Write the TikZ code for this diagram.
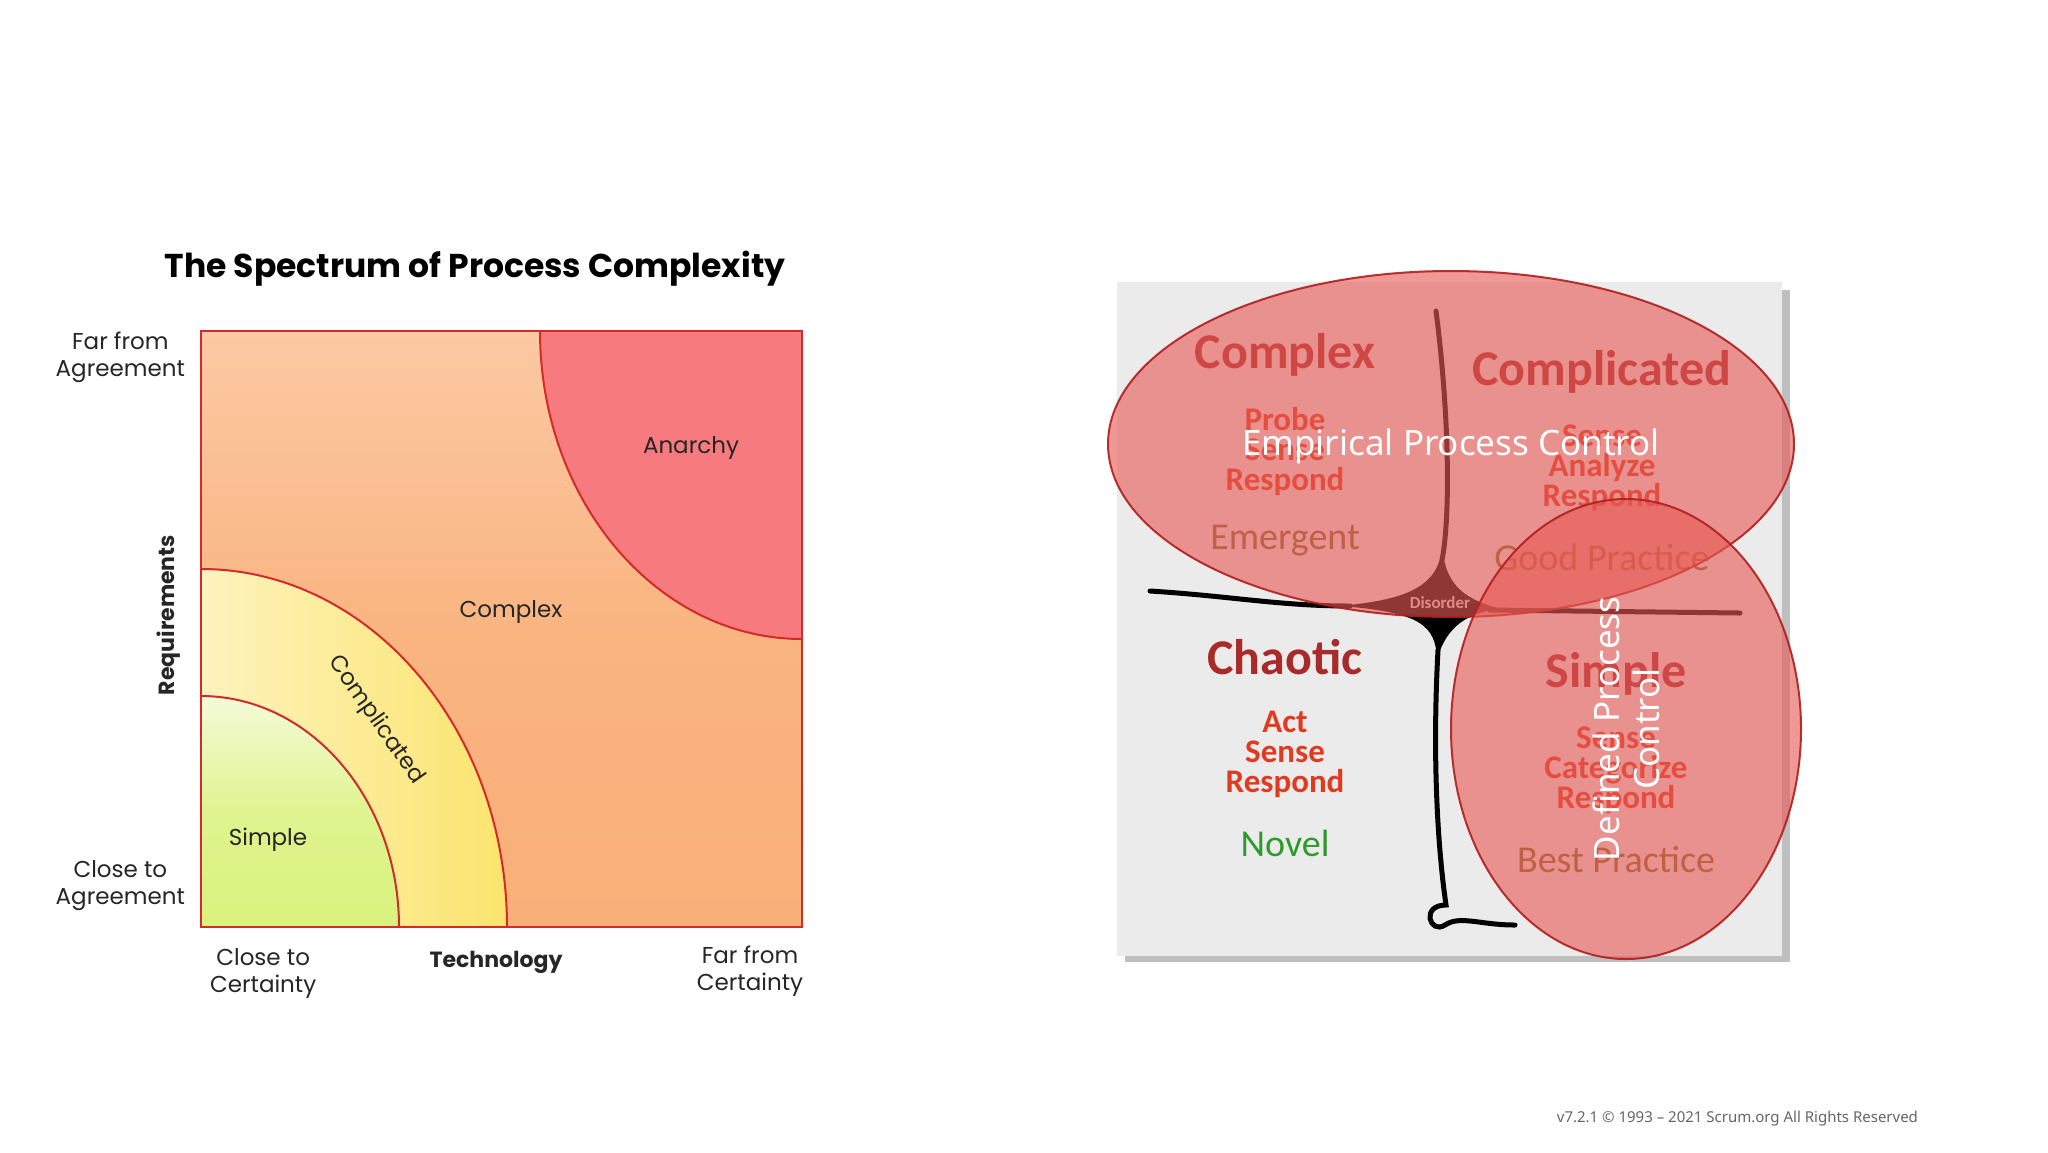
\documentclass[tikz,border=0pt]{standalone}
\usepackage{fontspec}
\setmainfont{Poppins}
\newfontfamily\cyn{Carlito}
\newfontfamily\nsans{Noto Sans}
\usetikzlibrary{shadows}
\definecolor{orng}{HTML}{F9AF78}
\definecolor{orngl}{HTML}{FBC9A3}
\definecolor{anr}{HTML}{F77A7E}
\definecolor{yel}{HTML}{FBE46E}
\definecolor{grn}{HTML}{D9F27C}
\definecolor{bord}{HTML}{D42A2A}
\definecolor{dred}{HTML}{A82A2A}
\definecolor{mred}{HTML}{E03A20}
\definecolor{oliv}{HTML}{7F6A2A}
\definecolor{novg}{HTML}{2E9A2E}
\definecolor{elf}{HTML}{E85A55}
\definecolor{elb}{HTML}{B01E1E}
\tikzset{
 lbl/.style={font=\fontsize{11.5}{13.5}\selectfont, align=center, text=black!85},
 big/.style={font=\cyn\bfseries\fontsize{25}{28}\selectfont, text=dred},
 verb/.style={font=\cyn\bfseries\fontsize{16.5}{18}\selectfont, text=mred},
 prac/.style={font=\cyn\fontsize{19}{21}\selectfont, text=oliv},
 ell/.style={fill=elf, fill opacity=0.62, draw=elb, line width=1pt, draw opacity=0.9},
 wlab/.style={font=\nsans\fontsize{17.5}{20}\selectfont, text=white, align=center},
 cline/.style={line width=2.5pt, black, line cap=round}
}
\begin{document}
\begin{tikzpicture}[x=0.5pt,y=-0.5pt]
\useasboundingbox (0,0) rectangle (2048,1152);
\fill[white] (0,0) rectangle (2048,1152);
% ---------- left chart
\node (title) at (475,269) {\fontsize{16.5}{19}\selectfont\bfseries The Spectrum of Process Complexity};
\shade[top color=orngl, bottom color=orng, middle color=orng!80!orngl] (201,331) rectangle (802,927);
\fill[anr] (540,331) arc[start angle=180, end angle=90, x radius=262, y radius=308] -- (802,331) -- cycle;
\draw[bord, line width=1pt] (540,331) arc[start angle=180, end angle=90, x radius=262, y radius=308];
\shade[left color=yel!45, right color=yel] (201,927) -- (201,569) arc[start angle=-90, end angle=0, x radius=306, y radius=358] -- cycle;
\draw[bord, line width=1pt] (201,569) arc[start angle=-90, end angle=0, x radius=306, y radius=358];
\shade[top color=grn!30, bottom color=grn, middle color=grn!85] (201,927) -- (201,696) arc[start angle=-90, end angle=0, x radius=198, y radius=231] -- cycle;
\draw[bord, line width=1pt] (201,696) arc[start angle=-90, end angle=0, x radius=198, y radius=231];
\draw[bord, line width=1.3pt] (201,331) rectangle (802,927);
\node[lbl, anchor=east] (fa) at (192,357) {Far from\\Agreement};
\node[lbl, anchor=east] (ca) at (192,886) {Close to\\Agreement};
\node[lbl, rotate=90, font=\bfseries\fontsize{11}{13}\selectfont] (req) at (169,615) {Requirements};
\node[lbl, anchor=west] (cc) at (203,973) {Close to\\Certainty};
\node[lbl, font=\bfseries\fontsize{11}{13}\selectfont] (tech) at (496,962) {Technology};
\node[lbl] (fc) at (750,971) {Far from\\Certainty};
\node[lbl] (an) at (691,448) {Anarchy};
\node[lbl] (cx) at (511,612) {Complex};
\node[lbl, rotate=-55] (cp) at (376,720) {Complicated};
\node[lbl] (sp) at (268,840) {Simple};
% ---------- right: cynefin
\fill[black!25] (1125,290) rectangle (1790,962);
\fill[black!8] (1117,282) rectangle (1782,956);
\draw[cline] (1436,311) .. controls (1450,420) and (1450,520) .. (1442,560);
\fill[black] (1442,545) .. controls (1440,590) and (1400,600) .. (1340,606)
 .. controls (1420,612) and (1436,625) .. (1437,660)
 .. controls (1446,625) and (1470,612) .. (1500,609)
 .. controls (1470,600) and (1445,590) .. (1442,545) -- cycle;
\draw[cline] (1150,591) .. controls (1230,596) and (1280,606) .. (1350,606);
\draw[cline] (1490,610) -- (1740,613);
\draw[cline] (1438,650) .. controls (1432,760) and (1438,850) .. (1446,905)
 .. controls (1420,905) and (1430,935) .. (1445,925)
 .. controls (1460,915) and (1480,925) .. (1515,925);
\node[font=\cyn\bfseries\fontsize{8.5}{10}\selectfont, text=black!15] (dis) at (1440,603) {Disorder};
\node[big] (cxn) at (1285,355) {Complex};
\node[verb, align=center] (cxv) at (1285,452) {Probe\\[-3pt]Sense\\[-3pt]Respond};
\node[prac] (em) at (1285,541) {Emergent};
\node[big] (cpn) at (1602,372) {Complicated};
\node[verb, align=center] (cpv) at (1602,468) {Sense\\[-3pt]Analyze\\[-3pt]Respond};
\node[prac] (gp) at (1602,557) {Good Practice};
\node[big] (chn) at (1285,657) {Chaotic};
\node[verb, align=center] (chv) at (1285,754) {Act\\[-3pt]Sense\\[-3pt]Respond};
\node[prac, text=novg] (nv) at (1285,843) {Novel};
\node[big] (smn) at (1616,674) {Simple};
\node[verb, align=center] (smv) at (1616,770) {Sense\\[-3pt]Categorize\\[-3pt]Respond};
\node[prac] (bp) at (1616,859) {Best Practice};
% ellipses
\draw[ell] (1451,444) ellipse[x radius=343, y radius=173];
\draw[ell] (1626,729) ellipse[x radius=175, y radius=230];
\node[wlab] (emp) at (1451,446) {Empirical Process Control};
\node[wlab, rotate=90] (def) at (1626,729) {Defined Process\\Control};
% footer
\node[anchor=east, font=\nsans\fontsize{7.5}{9}\selectfont, text=black!60] (ft) at (1925,1119) {v7.2.1 © 1993 – 2021 Scrum.org All Rights Reserved};
\end{tikzpicture}
\end{document}
